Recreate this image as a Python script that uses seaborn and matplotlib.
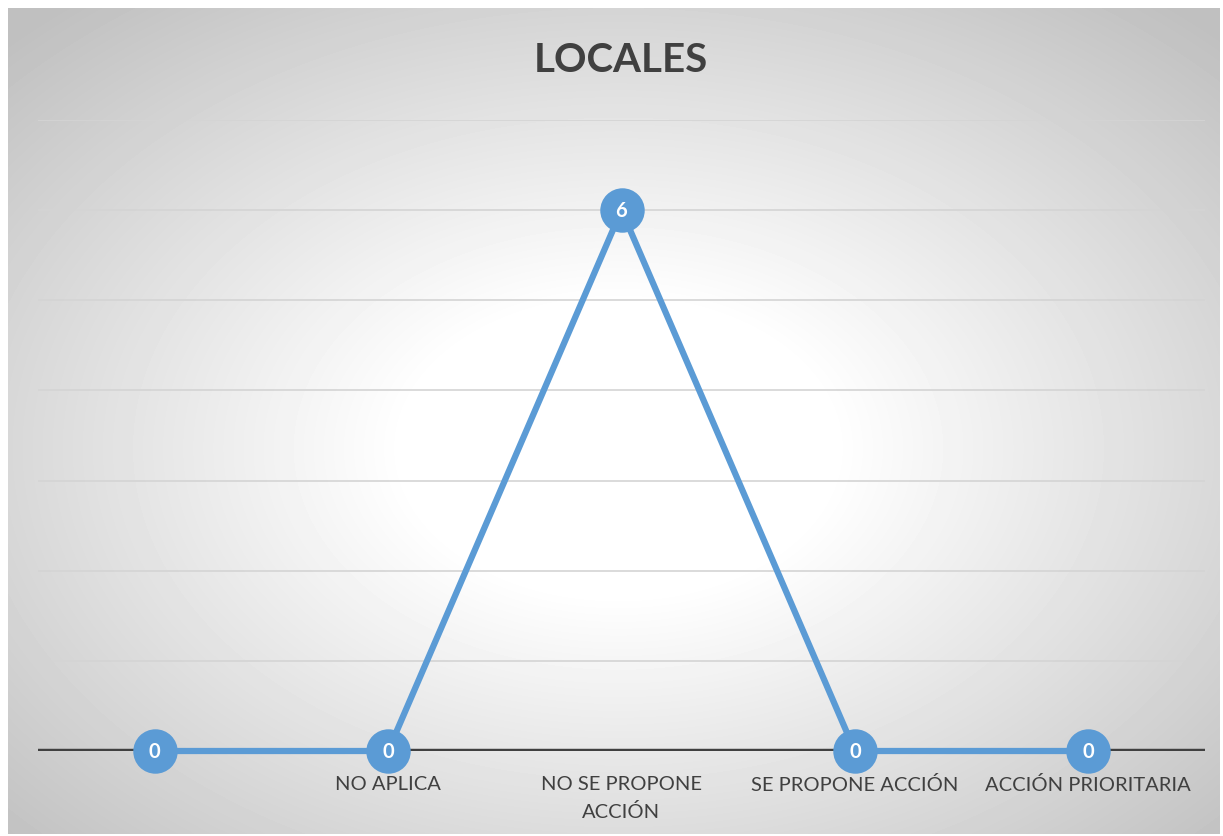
import matplotlib
matplotlib.use("Agg")
import matplotlib.pyplot as plt
import numpy as np
import pandas as pd
import seaborn as sns

categories = ["", "NO APLICA", "NO SE PROPONE\nACCIÓN", "SE PROPONE ACCIÓN", "ACCIÓN PRIORITARIA"]
values = [0, 0, 6, 0, 0]
title = "LOCALES"

sns.set_theme(style="white")
plt.rcParams['font.family'] = ['Lato', 'DejaVu Sans']

df = pd.DataFrame({"cat": categories, "val": values})

W, H = 1223, 837
fig = plt.figure(figsize=(W / 100, H / 100), dpi=100)
fig.patch.set_facecolor("white")

# radial gradient background panel
bg = fig.add_axes([8 / W, 2 / H, 1212 / W, 826 / H])
bg.set_axis_off()
yy, xx = np.mgrid[0:826, 0:1212]
dx = (xx - 610) / 606
dy = (yy - 440) / 413
r = np.sqrt(dx ** 2 + dy ** 2) / np.sqrt(2)
shade = 1 - 0.25 * np.clip((r - 0.25) / 0.75, 0, 1)
bg.imshow(shade, cmap="gray", vmin=0, vmax=1, aspect="auto", interpolation="bilinear")

ax = fig.add_axes([38 / W, 85 / H, 1167 / W, 631 / H])
ax.patch.set_alpha(0)
blue = "#5B9BD5"
sns.lineplot(data=df, x="cat", y="val", ax=ax, color=blue, linewidth=4.5, sort=False,
             marker="o", markersize=32, markeredgewidth=0, zorder=3, clip_on=False)
ax.set_xlim(-0.5, 4.5)
ax.set_ylim(0, 7)
for v in range(1, 8):
    ax.axhline(v, color="#d4d4d4", linewidth=1.2, zorder=1)
ax.axhline(0, color="#404040", linewidth=3.2, zorder=2)
for i, v in enumerate(values):
    ax.text(i, v, str(v), ha="center", va="center", color="white",
            fontsize=14.5, fontweight="bold", zorder=4)

ax.set_yticks([])
ax.set_xticks(range(len(categories)))
ax.set_xticklabels(categories, fontsize=14.5, color="#404040", linespacing=1.7)
ax.tick_params(axis="x", length=0, pad=17)
ax.set_xlabel("")
ax.set_ylabel("")
for s in ax.spines.values():
    s.set_visible(False)

fig.text(621 / W, 1 - 60 / H, title, ha="center", va="center",
         fontsize=29, fontweight="bold", color="#404040")

fig.savefig("out.png", dpi=100)
